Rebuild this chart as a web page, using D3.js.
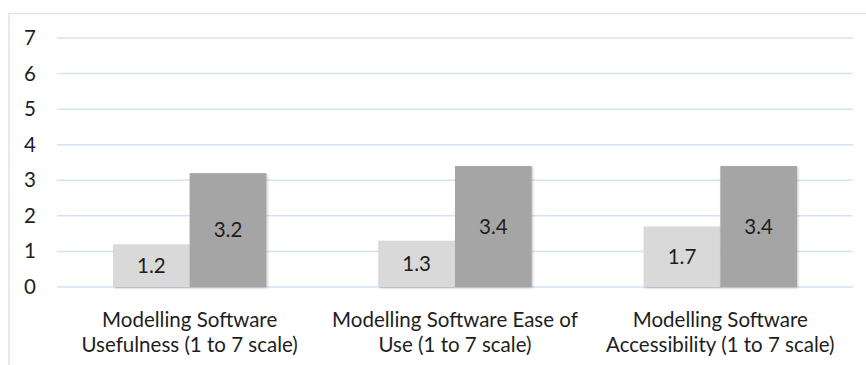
<!DOCTYPE html>
<html>
<head>
<meta charset="utf-8">
<script src="https://cdn.jsdelivr.net/npm/d3@7"></script>
<style>
  html, body { margin: 0; padding: 0; background: #fff; }
  svg { display: block; }
  text { font-family: Lato, "Open Sans", sans-serif; fill: #1e1e1e; }
</style>
</head>
<body>
<svg id="chart" width="866" height="365"></svg>
<script>
// Survey ratings on a 1 to 7 scale, two series per category
const categories = [
  ["Modelling Software", "Usefulness (1 to 7 scale)"],
  ["Modelling Software Ease of", "Use (1 to 7 scale)"],
  ["Modelling Software", "Accessibility (1 to 7 scale)"]
];
const seriesA = [1.2, 1.3, 1.7];
const seriesB = [3.2, 3.4, 3.4];
const yTicks = [0, 1, 2, 3, 4, 5, 6, 7];

const colors = ["#d9d9d9", "#a5a5a5"];
const fontSize = "20.5px";

const svg = d3.select("#chart");
const margin = { left: 57, right: 13, top: 38, bottom: 78 };
const W = 866, H = 365;

// Outer frame (top and left edges visible)
svg.append("line").attr("x1", 9).attr("x2", W).attr("y1", 13.5).attr("y2", 13.5)
  .attr("stroke", "#dbe5f1").attr("stroke-width", 1.5);
svg.append("line").attr("x1", 9).attr("x2", 9).attr("y1", 13).attr("y2", H)
  .attr("stroke", "#dbe5f1").attr("stroke-width", 1.5);

const x = d3.scaleBand()
  .domain(d3.range(categories.length))
  .range([margin.left, W - margin.right])
  .paddingInner(0).paddingOuter(0);

const y = d3.scaleLinear().domain([0, 7]).range([H - margin.bottom, margin.top]);

// Gridlines
svg.append("g").selectAll("line").data(yTicks).join("line")
  .attr("x1", margin.left).attr("x2", W - margin.right)
  .attr("y1", d => y(d)).attr("y2", d => y(d))
  .attr("stroke", "#d6e3f5").attr("stroke-width", 1.5);

// Y axis labels
const yAxis = d3.axisLeft(y).tickValues(yTicks).tickSize(0).tickPadding(0).tickFormat(d3.format("d"));
const ya = svg.append("g").attr("transform", "translate(36,0)").call(yAxis);
ya.select(".domain").remove();
ya.selectAll("text").attr("text-anchor", "middle").attr("x", -6)
  .style("font-size", fontSize).style("font-family", "Lato, sans-serif").attr("fill", "#1e1e1e");

const groupFrac = 0.578;
const inner = d3.scaleBand().domain([0, 1]).range([0, x.bandwidth() * groupFrac]);

const data = categories.map((c, i) => [seriesA[i], seriesB[i]]);

const defs = svg.append("defs");
const f = defs.append("filter").attr("id", "shadow").attr("x", "-10%").attr("y", "-10%").attr("width", "130%").attr("height", "130%");
f.append("feDropShadow").attr("dx", 1).attr("dy", 1).attr("stdDeviation", 1.2).attr("flood-color", "#000").attr("flood-opacity", 0.25);

const groups = svg.append("g").selectAll("g").data(data).join("g")
  .attr("transform", (d, i) => `translate(${x(i) + (x.bandwidth() * (1 - groupFrac)) / 2},0)`);

groups.selectAll("rect").data(d => d).join("rect")
  .attr("x", (d, j) => inner(j))
  .attr("width", inner.bandwidth())
  .attr("y", d => y(d))
  .attr("height", d => y(0) - y(d))
  .attr("fill", (d, j) => colors[j])
  .attr("filter", "url(#shadow)");

groups.selectAll("text.val").data(d => d).join("text")
  .attr("class", "val")
  .attr("x", (d, j) => inner(j) + inner.bandwidth() / 2)
  .attr("y", d => (y(d) + y(0)) / 2)
  .attr("dy", "0.36em")
  .attr("text-anchor", "middle")
  .style("font-size", fontSize)
  .text(d => d.toFixed(1));

// Category labels
const cl = svg.append("g").selectAll("text").data(categories).join("text")
  .attr("text-anchor", "middle")
  .attr("x", (d, i) => x(i) + x.bandwidth() / 2)
  .attr("y", 327)
  .style("font-size", fontSize);
cl.selectAll("tspan").data(d => d).join("tspan")
  .attr("x", function() { return this.parentNode.getAttribute("x"); })
  .attr("dy", (d, k) => k === 0 ? 0 : 24.5)
  .text(d => d);
</script>
</body>
</html>
